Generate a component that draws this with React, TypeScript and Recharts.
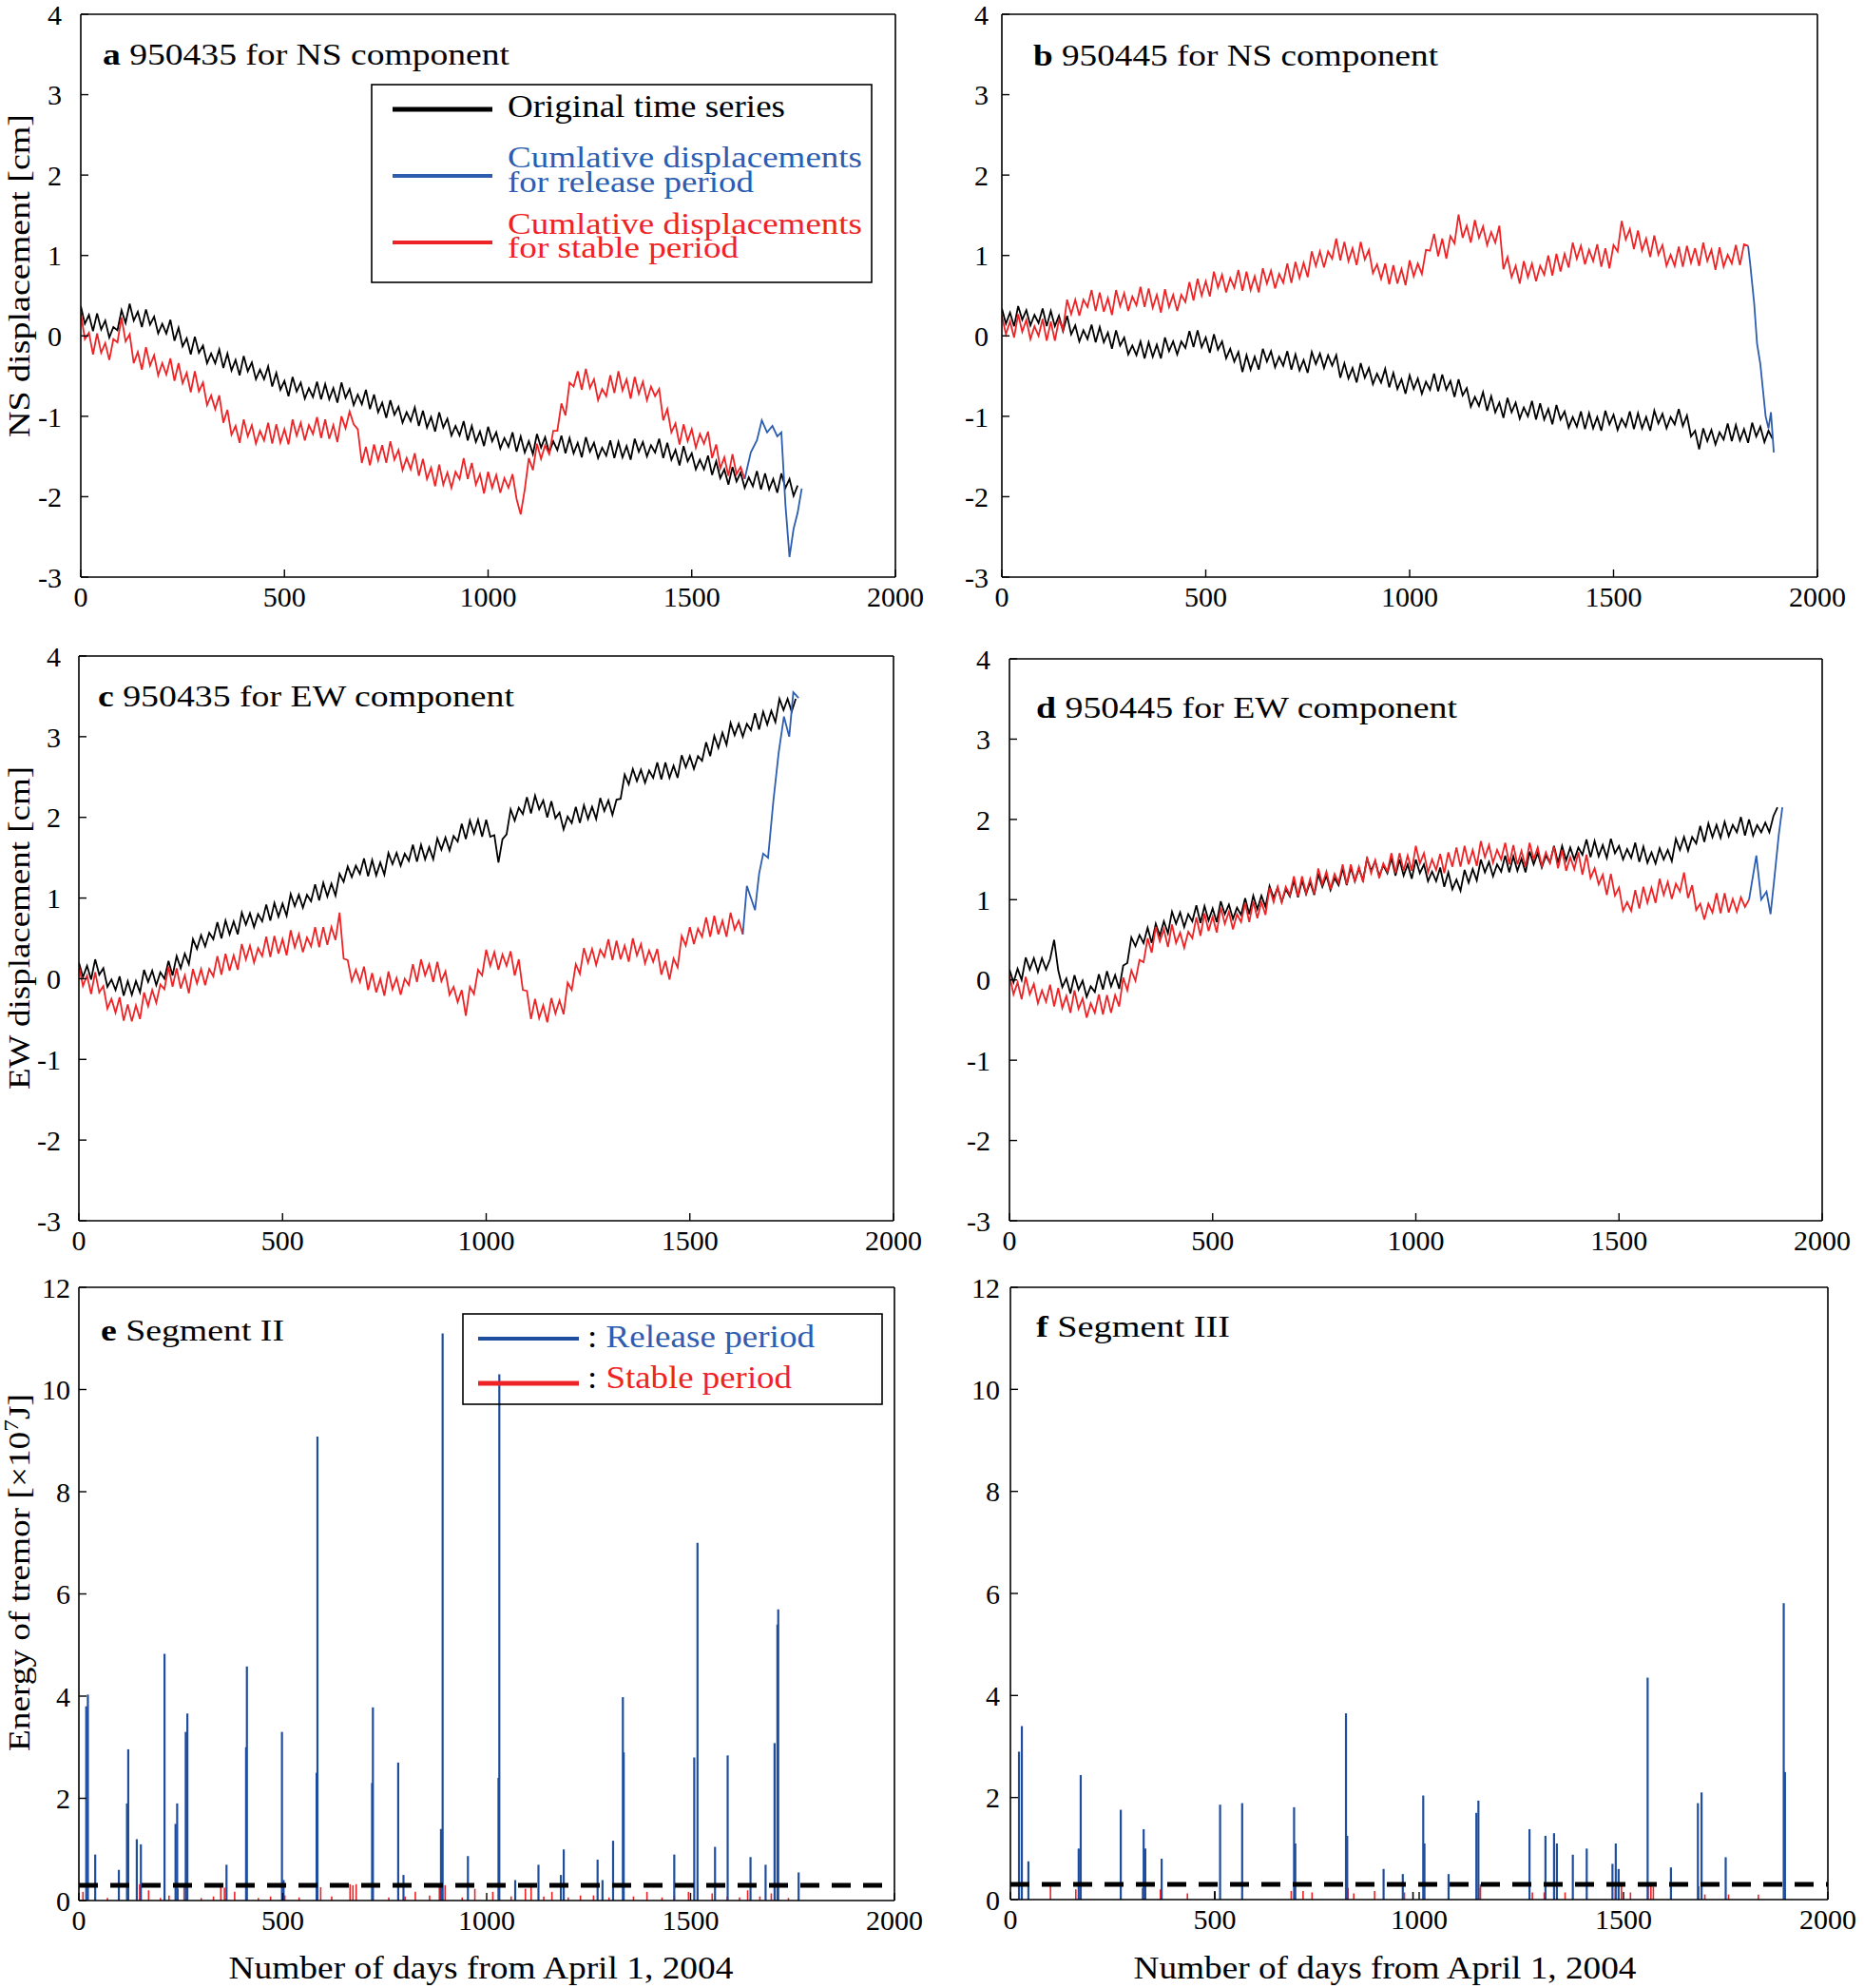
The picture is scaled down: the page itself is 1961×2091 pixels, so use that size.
import React from 'react';
import { LineChart, Line, XAxis, YAxis, ReferenceLine } from 'recharts';

type P = [number, number];

// Displacement series are sampled every SAMPLE_DAYS days starting on day 0.
const SAMPLE_DAYS = 10;

// ---------------- Panel a : 950435, NS ----------------
const aOriginal = [
  .37,.15,.26,.06,.28,.08,.19,-.02,.11,.07, .32,.16,.40,.19,.30,.11,.33,.14,.24,.03,
  .15,.03,.20,-.06,.10,-.13,-.03,-.23,-.01,-.21, -.12,-.34,-.22,-.34,-.17,-.40,-.22,-.43,-.30,-.49,
  -.25,-.44,-.33,-.54,-.42,-.54,-.38,-.63,-.46,-.67, -.56,-.75,-.51,-.69,-.58,-.78,-.65,-.76,-.57,-.79,
  -.60,-.79,-.65,-.83,-.58,-.77,-.66,-.86,-.73,-.85, -.67,-.91,-.73,-.95,-.83,-1.02,-.80,-.98,-.88,-1.08,
  -.95,-1.06,-.89,-1.12,-.93,-1.14,-1.01,-1.19,-.95,-1.14, -1.03,-1.24,-1.12,-1.24,-1.06,-1.30,-1.12,-1.32,-1.19,-1.37,
  -1.13,-1.31,-1.20,-1.40,-1.27,-1.38,-1.20,-1.44,-1.25,-1.45, -1.31,-1.47,-1.22,-1.39,-1.26,-1.45,-1.31,-1.42,-1.24,-1.46,
  -1.27,-1.46,-1.33,-1.51,-1.26,-1.44,-1.33,-1.52,-1.39,-1.49, -1.30,-1.52,-1.32,-1.51,-1.37,-1.54,-1.28,-1.44,-1.32,-1.50,
  -1.36,-1.45,-1.28,-1.52,-1.33,-1.54,-1.42,-1.61,-1.37,-1.56, -1.46,-1.66,-1.54,-1.66,-1.49,-1.73,-1.56,-1.77,-1.66,-1.85,
  -1.63,-1.81,-1.70,-1.89,-1.76,-1.87,-1.68,-1.91,-1.71,-1.91, -1.78,-1.95,-1.71,-1.89,-1.78,-1.99,-1.86,
];
const aStable = [
  .28,-.04,.04,-.23,.03,-.21,-.09,-.30,-.04,-.08, .23,-.07,.02,-.34,-.20,-.42,-.14,-.37,-.24,-.49,
  -.34,-.48,-.28,-.56,-.34,-.59,-.46,-.70,-.44,-.69, -.58,-.86,-.74,-.91,-.74,-1.08,-.92,-1.23,-1.12,-1.33,
  -1.04,-1.25,-1.11,-1.34,-1.18,-1.30,-1.08,-1.34,-1.10,-1.33, -1.16,-1.35,-1.04,-1.24,-1.08,-1.30,-1.11,-1.22,-1.01,-1.27,
  -1.04,-1.28,-1.11,-1.32,-1.00,-1.15,-.94,-1.10,-1.16,-1.58, -1.38,-1.61,-1.35,-1.55,-1.36,-1.58,-1.31,-1.54,-1.42,-1.67,
  -1.52,-1.66,-1.46,-1.74,-1.53,-1.78,-1.64,-1.87,-1.60,-1.85, -1.70,-1.89,-1.69,-1.78,-1.52,-1.78,-1.58,-1.85,-1.72,-1.96,
  -1.69,-1.89,-1.73,-1.95,-1.77,-1.89,-1.72,-2.03,-2.22,-1.91, -1.52,-1.67,-1.34,-1.53,-1.36,-1.47,-1.18,-1.18,-.84,-.99,
  -.58,-.63,-.44,-.67,-.41,-.65,-.54,-.80,-.66,-.75, -.49,-.71,-.44,-.68,-.54,-.78,-.51,-.72,-.57,-.80,
  -.63,-.75,-.66,-1.05,-.91,-1.20,-1.09,-1.35,-1.10,-1.31, -1.16,-1.39,-1.22,-1.34,-1.19,-1.52,-1.35,-1.65,-1.51,-1.74,
  -1.47,-1.72,-1.63,-1.78,
];
const aRelease: P[] = [
  [1630,-1.78],[1645,-1.45],[1660,-1.30],[1672,-1.05],[1685,-1.20],[1698,-1.12],[1710,-1.25],[1720,-1.20],
  [1730,-2.10],[1740,-2.75],[1750,-2.40],[1760,-2.20],[1770,-1.90],
];

// ---------------- Panel b : 950445, NS ----------------
const bOriginal = [
  .34,.15,.29,.12,.37,.20,.32,.13,.26,.16, .34,.12,.31,.12,.25,.06,.25,.02,.13,-.07,
  .07,-.04,.14,-.08,.11,-.08,.04,-.16,.07,-.12, -.02,-.23,-.12,-.24,-.07,-.28,-.08,-.26,-.11,-.28,
  -.02,-.19,-.07,-.23,-.07,-.15,.06,-.14,.07,-.14, -.02,-.21,.02,-.17,-.07,-.28,-.16,-.32,-.20,-.45,
  -.24,-.42,-.26,-.42,-.16,-.32,-.19,-.39,-.26,-.37, -.19,-.42,-.23,-.43,-.30,-.46,-.20,-.35,-.22,-.40,
  -.24,-.37,-.24,-.52,-.34,-.53,-.40,-.58,-.34,-.52, -.40,-.60,-.47,-.58,-.41,-.64,-.46,-.66,-.54,-.72,
  -.49,-.66,-.53,-.72,-.57,-.67,-.47,-.69,-.48,-.67, -.56,-.76,-.54,-.74,-.65,-.88,-.76,-.87,-.70,-.93,
  -.75,-.95,-.83,-1.02,-.77,-.95,-.83,-1.03,-.89,-1.00, -.81,-1.04,-.84,-1.04,-.91,-1.10,-.86,-1.04,-.94,-1.14,
  -1.01,-1.13,-.94,-1.16,-.96,-1.15,-1.01,-1.18,-.93,-1.10, -.98,-1.17,-1.03,-1.13,-.94,-1.16,-.96,-1.15,-1.01,-1.18,
  -.93,-1.09,-.97,-1.15,-1.01,-1.10,-.91,-1.12,-.99,-1.25, -1.18,-1.41,-1.15,-1.31,-1.17,-1.35,-1.20,-1.29,-1.09,-1.31,
  -1.11,-1.30,-1.16,-1.33,-1.08,-1.25,-1.13,-1.32,-1.18,-1.28,
];
const bStable = [
  .25,.02,.18,-.02,.27,.05,.20,-.04,.12,.00, .21,-.06,.18,-.06,.20,.08,.45,.27,.45,.25,
  .45,.36,.57,.31,.54,.30,.47,.26,.57,.37, .53,.31,.49,.38,.61,.36,.59,.35,.51,.29,
  .58,.36,.51,.31,.51,.42,.67,.44,.71,.50, .68,.49,.80,.60,.76,.54,.72,.60,.82,.56,
  .80,.57,.74,.54,.84,.65,.81,.59,.77,.66, .90,.66,.92,.72,.91,.73,1.05,.87,1.05,.85,
  1.05,.96,1.21,.94,1.17,.93,1.09,.88,1.17,.95, 1.07,.78,.89,.71,.90,.64,.88,.65,.83,.63,
  .94,.74,.90,.77,1.07,1.06,1.27,.99,1.21,.96, 1.24,1.15,1.51,1.22,1.37,1.16,1.44,1.22,1.36,1.13,
  1.29,1.16,1.37,.83,.98,.73,.87,.65,.93,.73, .90,.68,.87,.76,1.00,.75,1.02,.80,1.02,.85,
  1.16,.96,1.12,.89,1.07,.93,1.14,.86,1.09,.84, 1.13,1.05,1.43,1.20,1.33,1.08,1.31,1.06,1.21,.98,
  1.25,1.01,1.13,.87,1.01,.87,1.11,.86,1.12,.91, 1.09,.87,1.16,.93,1.07,.82,1.10,.86,1.01,.90,
  1.13,.88,1.14,1.12,
];
const bRelease: P[] = [
  [1830,1.12],[1835,0.90],[1845,0.40],[1852,-0.10],[1860,-0.35],[1866,-0.65],[1873,-1.00],[1880,-1.15],[1886,-0.95],[1893,-1.45],
];

// ---------------- Panel c : 950435, EW ----------------
const cOriginal = [
  .20,.02,.16,-.01,.24,.05,.13,-.10,-.01,-.14, .03,-.21,-.03,-.20,-.03,-.17,.11,-.04,.10,-.08,
  .08,.00,.22,.04,.28,.13,.31,.18,.49,.37, .54,.40,.57,.49,.70,.50,.72,.55,.71,.55,
  .82,.67,.81,.64,.80,.71,.92,.72,.94,.77, .93,.78,1.05,.90,1.04,.88,1.04,.96,1.17,.97,
  1.19,1.02,1.18,1.03,1.30,1.20,1.39,1.26,1.40,1.30, 1.49,1.27,1.47,1.28,1.44,1.29,1.56,1.42,1.56,1.40,
  1.55,1.46,1.66,1.45,1.66,1.48,1.63,1.48,1.74,1.60, 1.75,1.59,1.77,1.70,1.92,1.73,1.96,1.80,1.97,1.76,
  1.97,1.76,1.78,1.44,1.73,1.79,2.10,1.96,2.12,2.04, 2.25,2.05,2.27,2.10,2.21,2.00,2.20,1.99,2.06,1.85,
  2.01,1.93,2.13,1.93,2.15,1.98,2.13,1.98,2.24,2.08, 2.21,2.03,2.22,2.23,2.53,2.41,2.60,2.45,2.59,2.43,
  2.58,2.49,2.68,2.47,2.68,2.49,2.64,2.49,2.77,2.62, 2.76,2.60,2.76,2.70,2.93,2.76,3.01,2.86,3.05,2.90,
  3.17,3.02,3.16,3.00,3.16,3.08,3.29,3.09,3.31,3.15, 3.32,3.18,3.47,3.33,3.47,3.31,3.47,
];
const cStable = [
  .16,-.09,.04,-.19,.08,-.17,-.09,-.37,-.25,-.42, -.23,-.52,-.32,-.53,-.33,-.50,-.17,-.34,-.14,-.30,
  -.07,-.13,.15,-.10,.13,-.12,.04,-.18,.12,-.06, .12,-.08,.12,.03,.28,.05,.31,.10,.29,.11,
  .43,.24,.41,.20,.38,.28,.52,.27,.53,.31, .49,.29,.60,.39,.55,.33,.51,.40,.64,.39,
  .64,.42,.64,.48,.82,.25,.23,-.03,.11,-.04, .15,-.14,.07,-.17,.00,-.21,.09,-.13,.01,-.20,
  .00,-.08,.18,-.04,.24,.04,.18,-.04,.21,-.03, .09,-.20,-.10,-.29,-.14,-.46,-.10,-.19,.11,.04,
  .36,.16,.33,.11,.30,.16,.34,.04,.24,-.14, -.15,-.50,-.25,-.49,-.33,-.54,-.24,-.43,-.27,-.44,
  -.05,-.14,.18,.06,.38,.20,.37,.17,.36,.27, .49,.23,.47,.24,.41,.21,.50,.29,.43,.19,
  .35,.21,.37,.05,.22,-.01,.25,.14,.53,.41, .64,.43,.62,.52,.76,.52,.78,.55,.72,.52,
  .82,.61,.72,.55,
];
const cRelease: P[] = [
  [1630,0.55],[1640,1.15],[1650,1.00],[1660,0.85],[1670,1.30],[1680,1.55],[1692,1.50],[1705,2.20],[1718,2.80],
  [1731,3.25],[1744,3.00],[1754,3.55],[1767,3.48],
];

// ---------------- Panel d : 950445, EW ----------------
const dOriginal = [
  .13,-.03,.14,.00,.28,.13,.27,.10,.27,.13, .26,.50,.12,-.09,.02,-.17,.06,-.12,-.01,-.21,
  -.08,-.15,.07,-.12,.11,-.08,.06,-.11,.18,.21, .53,.42,.56,.46,.65,.46,.70,.55,.73,.58,
  .85,.70,.84,.66,.82,.73,.93,.71,.92,.74, .89,.72,.98,.82,.94,.76,.90,.81,1.02,.82,
  1.05,.88,1.05,.91,1.17,1.02,1.15,.97,1.13,1.04, 1.24,1.03,1.24,1.07,1.22,1.06,1.32,1.16,1.30,1.12,
  1.27,1.18,1.39,1.18,1.40,1.23,1.39,1.24,1.51,1.36, 1.48,1.29,1.43,1.33,1.52,1.30,1.50,1.30,1.44,1.26,
  1.50,1.33,1.44,1.23,1.35,1.23,1.40,1.16,1.34,1.13, 1.25,1.11,1.37,1.21,1.38,1.24,1.50,1.34,1.47,1.29,
  1.44,1.35,1.55,1.34,1.54,1.36,1.51,1.34,1.60,1.44, 1.58,1.40,1.55,1.46,1.67,1.46,1.67,1.49,1.65,1.50,
  1.65,1.56,1.75,1.53,1.73,1.54,1.68,1.52,1.76,1.58, 1.67,1.50,1.63,1.52,1.71,1.47,1.66,1.46,1.59,1.45,
  1.64,1.50,1.62,1.48,1.76,1.62,1.78,1.61,1.78,1.70, 1.92,1.72,1.95,1.78,1.93,1.77,1.97,1.79,1.93,1.84,
  2.03,1.80,2.00,1.80,1.93,1.84,1.96,1.84,2.04,2.15,
];
const dStable = [
  .06,-.18,-.03,-.24,.04,-.18,-.05,-.29,-.13,-.27, -.06,-.33,-.10,-.35,-.20,-.41,-.13,-.36,-.23,-.47,
  -.29,-.41,-.18,-.43,-.19,-.41,-.19,-.33,.03,-.13, .12,-.01,.25,.22,.52,.34,.66,.48,.63,.41,
  .69,.46,.59,.40,.60,.52,.78,.55,.83,.61, .79,.59,.90,.70,.85,.63,.82,.72,.96,.72,
  .98,.77,.97,.81,1.15,.97,1.16,.97,1.16,1.06, 1.29,1.04,1.29,1.08,1.26,1.07,1.39,1.19,1.35,1.13,
  1.32,1.21,1.44,1.19,1.44,1.23,1.41,1.22,1.53,1.33, 1.49,1.27,1.45,1.35,1.58,1.33,1.58,1.36,1.55,1.36,
  1.67,1.45,1.58,1.34,1.50,1.37,1.57,1.33,1.59,1.41, 1.65,1.41,1.67,1.44,1.62,1.42,1.73,1.53,1.68,1.46,
  1.62,1.50,1.71,1.44,1.68,1.44,1.61,1.41,1.71,1.50, 1.65,1.42,1.59,1.46,1.66,1.39,1.62,1.36,1.53,1.38,
  1.59,1.31,1.56,1.27,1.39,1.19,1.31,1.06,1.32,1.05, 1.15,.86,.97,.86,1.12,.89,1.16,.96,1.15,.96,
  1.26,1.06,1.22,1.01,1.20,1.10,1.34,1.02,1.18,.87, .95,.75,.95,.84,1.08,.83,1.08,.84,1.01,.85,
  1.03,.91,1.00,
];
const dRelease: P[] = [
  [1820,1.00],[1838,1.55],[1850,1.00],[1863,1.10],[1873,0.82],[1882,1.25],[1893,1.80],[1902,2.15],
];

// ---------------- Panel e : Segment II (energy of tremor) ----------------
const eRelease: P[] = [
  [18,3.8],[22,4.03],[40,0.9],[98,0.6],[118,1.9],[121,2.96],[142,1.2],[152,1.1],[210,4.83],[237,1.5],
  [241,1.9],[262,3.3],[266,3.66],[362,0.7],[410,3.0],[412,4.58],[498,3.3],[502,0.4],[583,2.5],[585,9.08],
  [719,2.3],[721,3.78],[783,2.7],[796,0.5],[888,1.4],[892,11.1],[954,0.87],[1029,2.4],[1031,10.3],[1070,0.4],
  [1127,0.7],[1182,0.5],[1189,1.0],[1272,0.8],[1284,0.4],[1310,1.17],[1334,3.98],[1336,2.9],[1460,0.9],[1509,2.8],
  [1517,7.0],[1560,1.05],[1591,2.84],[1647,0.85],[1684,0.7],[1706,3.08],[1713,5.4],[1715,5.7],[1765,0.55],
];
const eStable: P[] = [
  [10,0.17],[40,0.06],[70,0.05],[120,0.17],[149,0.32],[171,0.2],[200,0.05],[221,0.1],[243,0.23],[258,0.3],
  [300,0.05],[330,0.08],[348,0.32],[357,0.25],[382,0.17],[440,0.05],[470,0.08],[505,0.1],[540,0.06],[593,0.26],
  [620,0.08],[665,0.32],[672,0.3],[680,0.32],[721,0.35],[760,0.06],[800,0.08],[825,0.17],[860,0.1],[884,0.32],
  [890,0.28],[898,0.3],[940,0.06],[971,0.23],[1015,0.17],[1060,0.08],[1095,0.23],[1109,0.3],[1140,0.08],[1160,0.17],
  [1200,0.06],[1230,0.1],[1262,0.1],[1300,0.06],[1335,0.17],[1360,0.08],[1393,0.17],[1430,0.06],[1460,0.1],[1495,0.17],
  [1517,0.3],[1553,0.14],[1590,0.08],[1620,0.06],[1640,0.2],[1670,0.08],[1698,0.14],[1713,0.1],[1740,0.05],
];

// ---------------- Panel f : Segment III ----------------
const fRelease: P[] = [
  [21,2.9],[28,3.4],[44,0.75],[167,1.0],[172,2.44],[270,1.76],[326,1.38],[330,1.0],[370,0.8],[513,1.86],
  [567,1.89],[694,1.81],[697,1.1],[821,3.65],[824,1.25],[913,0.6],[960,0.5],[1010,2.04],[1013,1.1],[1072,0.5],
  [1140,1.7],[1145,1.94],[1270,1.38],[1309,1.25],[1330,1.3],[1337,1.1],[1376,0.88],[1410,1.0],[1473,0.7],[1481,1.1],
  [1488,0.6],[1559,4.35],[1616,0.63],[1682,1.89],[1691,2.1],[1750,0.83],[1892,5.81],[1895,2.5],
];
const fStable: P[] = [
  [98,0.26],[160,0.2],[270,0.23],[323,0.23],[367,0.2],[433,0.12],[687,0.17],[716,0.17],[738,0.14],[826,0.23],
  [840,0.12],[891,0.17],[964,0.14],[1146,0.23],[1150,0.3],[1277,0.14],[1306,0.14],[1357,0.14],[1480,0.23],[1495,0.3],
  [1517,0.14],[1560,0.32],[1567,0.32],[1573,0.25],[1684,0.26],[1699,0.1],[1757,0.1],[1830,0.1],[1895,0.2],
];
const fOther: P[] = [[500,0.17],[985,0.15]];

const dispTicks = [-3, -2, -1, 0, 1, 2, 3, 4];
const energyTicks = [0, 2, 4, 6, 8, 10, 12];
const dayTicks = [0, 500, 1000, 1500, 2000];
const thresholdLevel = 0.3;

// ---------------- styling ----------------
const FONT = "'Liberation Serif', 'Times New Roman', serif";
const BLACK = '#000000';
const BLUE = '#2d5db0';
const BAR_BLUE = '#1f4e9e';
const RED = '#ee2326';

type Geo = { l: number; t: number; r: number; b: number; gap: number };

const sampled = (vals: number[]) => vals.map((y, i) => ({ x: i * SAMPLE_DAYS, y }));
const pairs = (s: P[]) => s.map(([x, y]) => ({ x, y }));

const axisLineStyle = { stroke: '#000', strokeWidth: 1.6 };
const tickLineStyle = { stroke: '#000', strokeWidth: 1.4 };
const tickText = { fill: '#000', fontSize: 30, fontFamily: FONT };

function Panel({ geo, yDomain, yTicks, children }: { geo: Geo; yDomain: [number, number]; yTicks: number[]; children: React.ReactNode }) {
  const m = { top: 19, right: 39, bottom: 59, left: 79 };
  const w = geo.r - geo.l + m.left + m.right + 2;
  const h = geo.b - geo.t + m.top + m.bottom + 2;
  return (
    <div style={{ position: 'absolute', left: geo.l - m.left - 1, top: geo.t - m.top - 1 }}>
      <LineChart width={w} height={h} margin={m}>
        <XAxis xAxisId={0} type="number" dataKey="x" domain={[0, 2000]} ticks={dayTicks} interval={0}
          allowDataOverflow height={1} tickSize={-8} tickMargin={18}
          axisLine={axisLineStyle} tickLine={tickLineStyle} tick={tickText} />
        <XAxis xAxisId="top" orientation="top" type="number" dataKey="x" domain={[0, 2000]} ticks={dayTicks} interval={0}
          allowDataOverflow height={1} tickSize={-8} tick={false}
          axisLine={axisLineStyle} tickLine={tickLineStyle} />
        <YAxis yAxisId={0} type="number" domain={yDomain} ticks={yTicks} interval={0}
          allowDataOverflow width={1} tickSize={-8} tickMargin={8 + geo.gap}
          axisLine={axisLineStyle} tickLine={tickLineStyle} tick={tickText} />
        <YAxis yAxisId="right" orientation="right" type="number" domain={yDomain} ticks={yTicks} interval={0}
          allowDataOverflow width={1} tickSize={-8} tick={false}
          axisLine={axisLineStyle} tickLine={tickLineStyle} />
        {children}
      </LineChart>
    </div>
  );
}

const line = (data: { x: number; y: number }[], color: string, key: string, width = 1.8) => (
  <Line key={key} xAxisId={0} yAxisId={0} data={data} dataKey="y" type="linear" stroke={color}
    strokeWidth={width} dot={false} activeDot={false} isAnimationActive={false} />
);

const bars = (data: P[], color: string, key: string, width: number) =>
  data.map(([d, v], i) => (
    <ReferenceLine key={key + i} xAxisId={0} yAxisId={0} ifOverflow="visible"
      segment={[{ x: d, y: 0 }, { x: d, y: v }]} stroke={color} strokeWidth={width} />
  ));

const threshold = (key: string) => (
  <ReferenceLine key={key} xAxisId={0} yAxisId={0} y={thresholdLevel} stroke="#000" strokeWidth={5}
    strokeDasharray="20 13" ifOverflow="visible" />
);

const GEO_A: Geo = { l: 85, t: 15, r: 942, b: 607, gap: 20 };
const GEO_B: Geo = { l: 1054, t: 15, r: 1912, b: 607, gap: 14 };
const GEO_C: Geo = { l: 83, t: 690, r: 940, b: 1284, gap: 19 };
const GEO_D: Geo = { l: 1062, t: 693, r: 1917, b: 1284, gap: 20 };
const GEO_E: Geo = { l: 83, t: 1354, r: 941, b: 1999, gap: 9 };
const GEO_F: Geo = { l: 1063, t: 1354, r: 1923, b: 1998, gap: 11 };

function T({ x, y, len, size = 32, fill = '#000', children, anchor = 'start', rotate = false }:
  { x: number; y: number; len?: number; size?: number; fill?: string; children: React.ReactNode; anchor?: string; rotate?: boolean }) {
  return (
    <text x={x} y={y} fontFamily={FONT} fontSize={size} fill={fill} textAnchor={anchor as any}
      textLength={len} lengthAdjust={len ? 'spacingAndGlyphs' : undefined}
      transform={rotate ? `rotate(-90 ${x} ${y})` : undefined}>
      {children}
    </text>
  );
}

function Overlay() {
  return (
    <svg width={1961} height={2091} style={{ position: 'absolute', left: 0, top: 0, pointerEvents: 'none' }}>
      {/* panel titles */}
      <T x={108} y={68} len={428}><tspan fontWeight="bold">a</tspan> 950435 for NS component</T>
      <T x={1087} y={69} len={426}><tspan fontWeight="bold">b</tspan> 950445 for NS component</T>
      <T x={103} y={743} len={438}><tspan fontWeight="bold">c</tspan> 950435 for EW component</T>
      <T x={1090} y={755} len={443}><tspan fontWeight="bold">d</tspan> 950445 for EW component</T>
      <T x={106} y={1410} len={193}><tspan fontWeight="bold">e</tspan> Segment II</T>
      <T x={1090} y={1406} len={204}><tspan fontWeight="bold">f</tspan> Segment III</T>

      {/* y axis titles */}
      <T x={31} y={290} len={340} anchor="middle" rotate>NS displacement [cm]</T>
      <T x={31} y={976} len={340} anchor="middle" rotate>EW displacement [cm]</T>
      <T x={31} y={1654} len={376} anchor="middle" rotate>Energy of tremor [×10<tspan fontSize={22} dy={-12}>7</tspan><tspan dy={12}>J]</tspan></T>

      {/* x axis titles */}
      <T x={506} y={2081} len={531} size={34} anchor="middle">Number of days from April 1, 2004</T>
      <T x={1457} y={2081} len={529} size={34} anchor="middle">Number of days from April 1, 2004</T>

      {/* legend of panel a */}
      <rect x={391} y={89} width={526} height={208} fill="#fff" stroke="#000" strokeWidth={1.6} />
      <line x1={413} x2={518} y1={115} y2={115} stroke={BLACK} strokeWidth={5} />
      <line x1={413} x2={518} y1={185} y2={185} stroke={BLUE} strokeWidth={4} />
      <line x1={413} x2={518} y1={255} y2={255} stroke={RED} strokeWidth={4} />
      <T x={534} y={123} len={292} size={33}>Original time series</T>
      <T x={534} y={176} len={373} size={31} fill={BLUE}>Cumlative displacements</T>
      <T x={534} y={202} len={259} size={31} fill={BLUE}>for release period</T>
      <T x={534} y={246} len={373} size={31} fill={RED}>Cumlative displacements</T>
      <T x={534} y={271} len={243} size={31} fill={RED}>for stable period</T>

      {/* legend of panel e */}
      <rect x={487} y={1382} width={441} height={95} fill="none" stroke="#000" strokeWidth={1.6} />
      <line x1={503} x2={609} y1={1408} y2={1408} stroke={BAR_BLUE} strokeWidth={4} />
      <line x1={503} x2={609} y1={1455} y2={1455} stroke={RED} strokeWidth={5} />
      <T x={618} y={1417} len={239} size={33}>: <tspan fill={BLUE}>Release period</tspan></T>
      <T x={618} y={1460} len={215} size={33}>: <tspan fill={RED}>Stable period</tspan></T>
    </svg>
  );
}

export default function App() {
  return (
    <div style={{ position: 'absolute', left: 0, top: 0, width: 1961, height: 2091, background: '#fff', fontFamily: FONT }}>
      <Panel geo={GEO_A} yDomain={[-3, 4]} yTicks={dispTicks}>
        {[line(sampled(aOriginal), BLACK, 'a0'), line(sampled(aStable), RED, 'a1'), line(pairs(aRelease), BLUE, 'a2')]}
      </Panel>
      <Panel geo={GEO_B} yDomain={[-3, 4]} yTicks={dispTicks}>
        {[line(sampled(bOriginal), BLACK, 'b0'), line(sampled(bStable), RED, 'b1'), line(pairs(bRelease), BLUE, 'b2')]}
      </Panel>
      <Panel geo={GEO_C} yDomain={[-3, 4]} yTicks={dispTicks}>
        {[line(sampled(cOriginal), BLACK, 'c0'), line(sampled(cStable), RED, 'c1'), line(pairs(cRelease), BLUE, 'c2')]}
      </Panel>
      <Panel geo={GEO_D} yDomain={[-3, 4]} yTicks={dispTicks}>
        {[line(sampled(dOriginal), BLACK, 'd0'), line(sampled(dStable), RED, 'd1'), line(pairs(dRelease), BLUE, 'd2')]}
      </Panel>
      <Panel geo={GEO_E} yDomain={[0, 12]} yTicks={energyTicks}>
        {[...bars(eStable, RED, 'es', 1.6), ...bars(eRelease, BAR_BLUE, 'er', 2.2), threshold('et')]}
      </Panel>
      <Panel geo={GEO_F} yDomain={[0, 12]} yTicks={energyTicks}>
        {[...bars(fStable, RED, 'fs', 1.6), ...bars(fOther, '#000', 'fo', 1.6), ...bars(fRelease, BAR_BLUE, 'fr', 2.2), threshold('ft')]}
      </Panel>
      <Overlay />
    </div>
  );
}
